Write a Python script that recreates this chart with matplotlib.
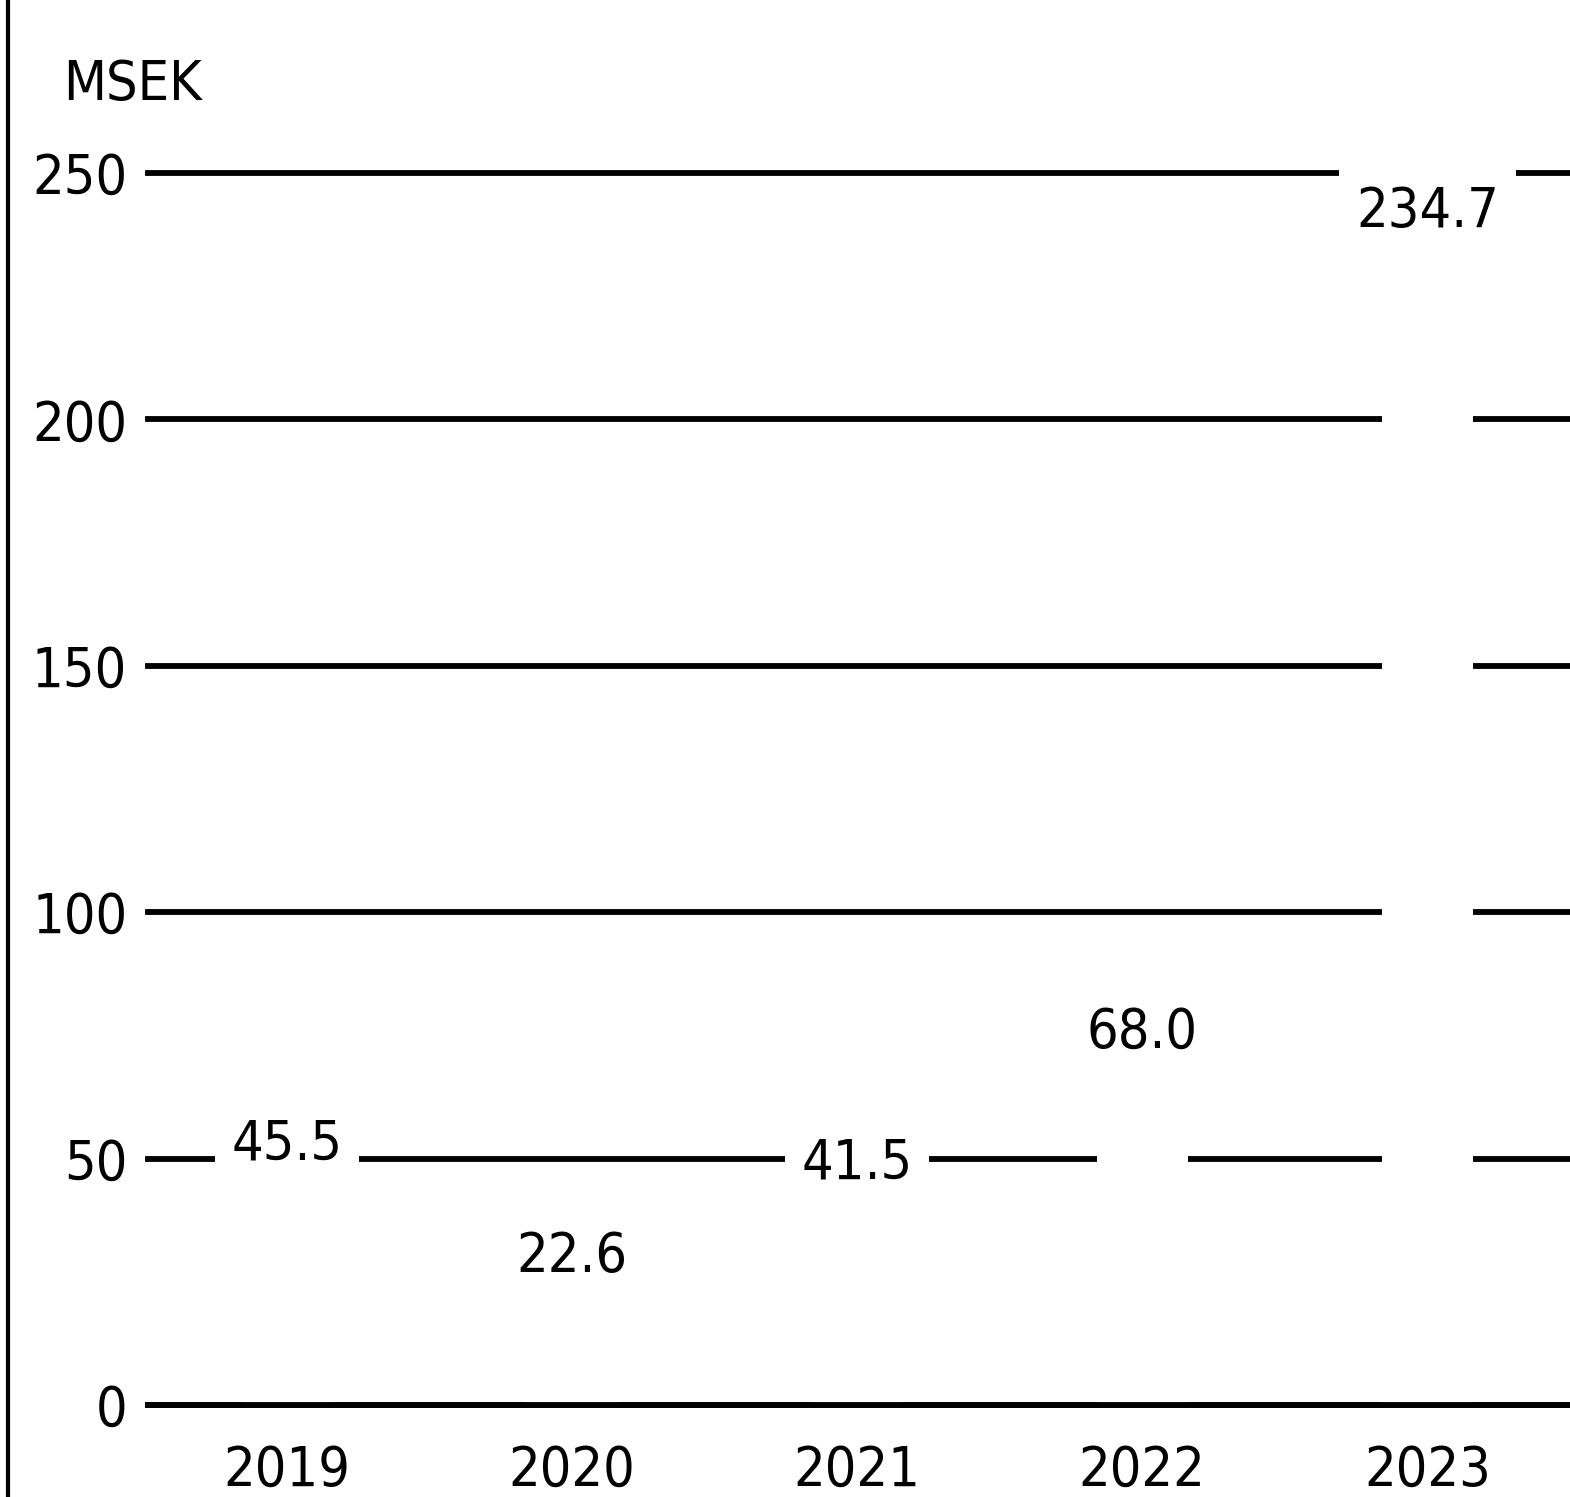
import matplotlib
matplotlib.use('Agg')
from matplotlib import pyplot as plt
from matplotlib.lines import Line2D
import numpy as np

years = ['2019', '2020', '2021', '2022', '2023']
values = [45.5, 22.6, 41.5, 68.0, 234.7]
yticks = [0, 50, 100, 150, 200, 250]

plt.rcParams['font.family'] = ['DejaVu Sans']
plt.rcParams['font.stretch'] = 'condensed'

fig = plt.figure(figsize=[15.7, 14.97], dpi=100)
ax = fig.add_axes([0.0943, 0.0615, 0.9057, 0.8229])

x = np.arange(len(years))
bars = ax.bar(x, values, width=0.32, color='white', zorder=3)

# thick black gridlines behind the (white) bars
for v in yticks:
    ax.axhline(v, color='black', lw=4.2, zorder=1, clip_on=False)
ax.axhline(0, color='black', lw=4.2, zorder=4, clip_on=False)

labels = ax.bar_label(bars, fmt='{:.1f}', padding=7, fontsize=40, zorder=5)
for t in labels:
    t.set_bbox(dict(boxstyle='square,pad=0.3', fc='white', ec='none'))

ax.set_xlim(-0.487, 4.5)
ax.set_ylim(0, 250)
ax.set_xticks(x, years)
ax.set_yticks(yticks)
ax.tick_params(axis='both', length=0, labelsize=40)
ax.tick_params(axis='x', pad=28)
ax.tick_params(axis='y', pad=15)
for s in ax.spines.values():
    s.set_visible(False)

fig.text(0.04, 0.943, 'MSEK', fontsize=40, ha='left', va='center')
fig.add_artist(Line2D([0.005, 0.005], [0, 1], color='black', lw=3, transform=fig.transFigure))

plt.savefig('out.png', dpi=100)
plt.close()
